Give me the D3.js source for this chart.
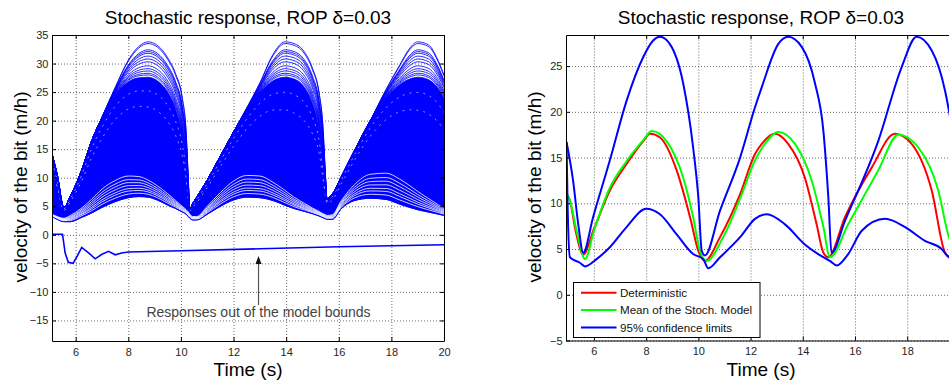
<!DOCTYPE html>
<meta charset="utf-8">
<style>
body { margin: 0; background: #fff; }
svg { display: block; font-family: "Liberation Sans", Arial, sans-serif; }
</style>
<body>
<script src="https://d3js.org/d3.v7.min.js"></script>
<script>

// ---------- left panel: ensemble of responses
// time knots shared by the envelope curves of the cloud
var cloudT = [5.1, 5.3, 5.55, 5.8, 6.2, 6.6, 7.0, 7.5, 8.0, 8.4, 8.75, 9.1, 9.5, 9.8, 10.05, 10.2, 10.28, 10.34, 10.45, 10.6,
              11.0, 11.5, 12.0, 12.5, 13.0, 13.5, 13.95, 14.3, 14.7, 15.0, 15.25, 15.4, 15.5, 15.55, 15.75, 16.1, 16.6, 17.2, 17.8, 18.3,
              18.7, 19.0, 19.4, 19.8, 20.0];
// outermost response (highest peaks)
var cloudOuter = [14.2, 10.5, 4.8, 6.8, 11.0, 16.4, 20.6, 25.8, 30.6, 33.0, 33.8, 33.2, 31.0, 28.2, 24.1, 18.0, 10.0, 4.4, 5.5, 6.6,
                  9.6, 13.8, 18.0, 22.2, 26.6, 31.6, 33.8, 33.5, 32.0, 29.2, 25.0, 19.0, 10.0, 6.3, 7.1, 10.2, 14.8, 20.0, 25.5, 29.6,
                  32.7, 33.8, 33.3, 30.3, 28.0];
// top of the solid mass
var cloudDense = [14.2, 10.5, 4.8, 6.8, 11.0, 16.4, 20.5, 24.5, 26.8, 27.5, 27.6, 27.0, 25.0, 22.0, 17.5, 12.0, 7.0, 4.4, 5.5, 6.6,
                  9.6, 13.8, 18.0, 21.8, 25.0, 27.0, 27.6, 27.3, 25.8, 23.0, 18.5, 12.5, 8.0, 6.3, 7.1, 10.2, 14.8, 20.0, 24.0, 26.3,
                  27.3, 27.6, 27.2, 25.5, 24.0];
// highest of the low, smooth responses
var lowFamTop = [3.6, 3.2, 2.9, 3.4, 4.6, 6.2, 8.0, 9.5, 10.3, 10.2, 9.6, 8.6, 7.2, 6.0, 5.0, 4.4, 4.0, 3.6, 3.2, 3.2,
                 5.0, 7.4, 9.4, 10.4, 10.3, 9.2, 7.8, 6.6, 5.5, 4.7, 4.1, 3.7, 3.5, 3.4, 3.5, 6.0, 8.8, 10.6, 10.8, 9.8,
                 8.6, 7.6, 6.4, 5.2, 4.6];
// lowest response
var cloudLow = [3.2, 2.7, 2.3, 2.3, 3.0, 3.8, 4.8, 5.8, 6.5, 6.7, 6.6, 6.1, 5.2, 4.6, 4.0, 3.6, 3.2, 2.9, 2.6, 2.6,
                3.6, 5.0, 6.1, 6.6, 6.5, 6.0, 5.2, 4.6, 4.1, 3.7, 3.3, 3.0, 2.8, 2.7, 2.7, 4.6, 6.0, 6.4, 6.2, 5.4,
                4.8, 4.4, 4.0, 3.6, 3.4];

// peak values of the separate arcs standing above the solid mass
var topArcPeaks = [33.8, 33.5, 32.4, 32.1, 31.8, 31.3, 30.8, 30.3, 29.6, 29.1, 28.7, 28.3, 28.0];
// peak values of the white gaps between the low responses
var lowGapPeaks = [10.3, 9.7, 9.2, 8.7, 8.2, 7.8, 7.3];
// broken white gaps inside the mass
var innerGapPeaks = [25.3, 22.6];

// response out of the model bounds
var outT = [5.1, 5.5, 5.6, 5.72, 5.9, 6.05, 6.23, 6.5, 6.74, 7.0, 7.25, 7.5, 7.75, 8.0, 10.0, 13.0, 16.0, 20.0];
var outV = [0.1, 0.1, -3.2, -4.8, -5.0, -3.8, -2.2, -3.2, -4.2, -3.4, -2.9, -3.5, -3.2, -3.0, -2.8, -2.45, -2.1, -1.75];

// ---------- right panel
var upT = [4.95, 5.2, 5.4, 5.59, 5.97, 6.61, 7.25, 7.89, 8.27, 8.53, 8.91, 9.42, 9.8, 10.0, 10.13, 10.25, 10.83, 11.6, 12.17, 12.43,
           13.06, 13.44, 13.96, 14.47, 14.79, 14.98, 15.1, 15.62, 16.89, 17.79, 18.36, 18.94, 19.45, 19.75, 20.0];
var upV = [16.7, 12.5, 7.7, 4.6, 8.5, 14.7, 21.2, 26.0, 27.8, 28.2, 27.4, 23.1, 16.1, 10.6, 4.8, 4.3, 9.2, 15.0, 20.5, 22.7,
           27.4, 28.2, 27.1, 23.1, 17.9, 10.6, 4.6, 8.1, 16.8, 24.9, 28.2, 26.7, 22.3, 17.5, 12.0];
var loT = [4.95, 4.99, 5.08, 5.46, 5.66, 6.1, 6.61, 7.25, 8.0, 8.53, 9.17, 9.8, 10.19, 10.38, 10.83, 11.6, 12.17, 12.62, 13.32, 14.08,
           14.59, 15.04, 15.3, 15.74, 16.26, 17.15, 17.92, 18.68, 19.32, 19.6, 20.0];
var loV = [16.7, 10.0, 4.1, 3.5, 3.1, 3.9, 5.2, 7.4, 9.4, 8.8, 6.6, 4.45, 3.9, 2.9, 4.1, 6.3, 8.3, 8.8, 7.7, 5.5,
           4.45, 3.7, 3.2, 4.45, 7.0, 8.3, 7.4, 5.9, 5.0, 4.1, 3.8];
var detT = [4.97, 5.08, 5.3, 5.59, 6.0, 6.61, 7.25, 7.89, 8.15, 8.53, 9.17, 9.68, 10.0, 10.25, 10.83, 11.6, 12.17, 12.43, 12.93, 13.44,
            14.08, 14.53, 14.79, 14.98, 15.62, 16.64, 17.53, 18.17, 18.94, 19.45, 19.6, 20.0];
var detV = [11.0, 10.3, 7.0, 4.4, 7.2, 11.4, 14.3, 16.8, 17.6, 17.2, 13.6, 8.5, 4.8, 3.7, 6.3, 11.0, 15.4, 16.5, 17.6, 16.5,
            12.8, 7.7, 4.6, 4.1, 8.5, 13.9, 17.6, 16.5, 11.4, 4.6, 4.2, 5.0];
var meanT = [4.97, 5.08, 5.35, 5.66, 6.0, 6.61, 7.25, 7.89, 8.21, 8.78, 9.42, 9.8, 10.06, 10.32, 10.95, 11.6, 12.17, 12.55, 13.06, 13.7,
             14.34, 14.79, 15.04, 15.74, 16.89, 17.66, 18.43, 19.19, 19.6, 20.0];
var meanV = [11.0, 10.3, 6.8, 3.9, 7.0, 11.7, 14.6, 16.9, 17.9, 16.8, 12.8, 8.5, 4.8, 3.7, 6.3, 10.5, 14.7, 16.5, 17.8, 16.5,
             12.5, 7.4, 4.1, 7.7, 13.6, 17.5, 16.1, 11.4, 6.3, 4.5];

var legendLabels = ["Deterministic", "Mean of the Stoch. Model", "95% confidence limits"];
var legendColors = ["#ff0000", "#00ff00", "#0000ff"];

var xTicksLeft = [6, 8, 10, 12, 14, 16, 18, 20];
var xTicksRight = [6, 8, 10, 12, 14, 16, 18];   // 20 falls outside the cropped picture
var yTicksLeft = [-15, -10, -5, 0, 5, 10, 15, 20, 25, 30, 35];
var yTicksRight = [-5, 0, 5, 10, 15, 20, 25];

var titleText = "Stochastic response, ROP \u03b4=0.03";
var yLabelText = "velocity of the bit (m/h)";
var xLabelText = "Time (s)";
var noteText = "Responses out of the model bounds";

// ---------- scales
var xL = d3.scaleLinear().domain([5.1, 20]).range([52, 444]);
var yL = d3.scaleLinear().domain([-18.6, 35]).range([341, 35]);
var xR = d3.scaleLinear().domain([4.93, 20]).range([566, 959.4]);
var yR = d3.scaleLinear().domain([-5, 28.4]).range([340.5, 35]);

var svg = d3.select("body").append("svg")
    .attr("width", 949)
    .attr("height", 382);

function zip(ts, vs) { return ts.map(function(t, i) { return {t: t, v: vs[i]}; }); }

// grid lines, drawn below the data
function drawGrid(x, y, xTicks, yTicks) {
  var g = svg.append("g");
  var w = x.range()[1] - x.range()[0], h = y.range()[0] - y.range()[1];
  g.append("g")
      .attr("transform", "translate(0," + y.range()[0] + ")")
      .call(d3.axisBottom(x).tickValues(xTicks).tickSize(-h).tickFormat(""));
  g.append("g")
      .attr("transform", "translate(" + x.range()[0] + ",0)")
      .call(d3.axisLeft(y).tickValues(yTicks).tickSize(-w).tickFormat(""));
  g.selectAll(".domain").remove();
  g.selectAll(".tick line")
      .attr("stroke", "#6a6a6a")
      .attr("stroke-dasharray", "1,2");
}

// box, inward ticks, labels
function drawFrame(x, y, xTicks, yTicks, cx) {
  var x0 = x.range()[0], x1 = x.range()[1], y0 = y.range()[1], y1 = y.range()[0];
  var axes = [
    [d3.axisBottom(x).tickValues(xTicks).tickPadding(7), "translate(0," + y1 + ")"],
    [d3.axisTop(x).tickValues(xTicks).tickFormat(""), "translate(0," + y0 + ")"],
    [d3.axisLeft(y).tickValues(yTicks).tickPadding(3.5), "translate(" + x0 + ",0)"],
    [d3.axisRight(y).tickValues(yTicks).tickFormat(""), "translate(" + x1 + ",0)"]
  ];
  axes.forEach(function(a) {
    var g = svg.append("g")
        .attr("transform", a[1])
        .call(a[0].tickSizeInner(-4).tickSizeOuter(0));
    g.select(".domain").attr("stroke", "#000");
    g.selectAll(".tick line").attr("stroke", "#000");
    g.selectAll("text")
        .attr("font-family", "Liberation Sans, Arial, sans-serif")
        .attr("font-size", 11)
        .attr("fill", "#262626");
  });

  svg.append("text")
      .attr("x", cx).attr("y", 24)
      .attr("text-anchor", "middle")
      .attr("font-size", 19)
      .text(titleText);
  svg.append("text")
      .attr("x", cx).attr("y", 376)
      .attr("text-anchor", "middle")
      .attr("font-size", 19)
      .text(xLabelText);
  svg.append("text")
      .attr("transform", "translate(" + (x0 - 25) + ",187) rotate(-90)")
      .attr("text-anchor", "middle")
      .attr("font-size", 19)
      .text(yLabelText);
}

function clip(id, x, y) {
  svg.append("clipPath").attr("id", id)
    .append("rect")
      .attr("x", x.range()[0]).attr("y", y.range()[1])
      .attr("width", x.range()[1] - x.range()[0])
      .attr("height", y.range()[0] - y.range()[1]);
}

// =============== LEFT PANEL ===============
drawGrid(xL, yL, xTicksLeft, yTicksLeft);
clip("clipL", xL, yL);

var left = svg.append("g").attr("clip-path", "url(#clipL)");

// curve between two envelopes, w = 0 gives a, w = 1 gives b
function blend(a, b, w) {
  return cloudT.map(function(t, i) { return {t: t, v: a[i] + (b[i] - a[i]) * w}; });
}

var lineL = d3.line()
    .x(function(d) { return xL(d.t); })
    .y(function(d) { return yL(d.v); })
    .curve(d3.curveMonotoneX);

var hump1 = cloudT.map(function(t, i) { return i; }).filter(function(i) { return cloudT[i] < 10.3; });
function peak1(arr) { return d3.max(hump1, function(i) { return arr[i]; }); }

var outerPk = d3.max(cloudOuter), densePk = d3.max(cloudDense);
var famPk = peak1(lowFamTop), lowPk = peak1(cloudLow);

// solid mass
left.append("path")
    .datum(cloudT.map(function(t, i) { return {t: t, lo: cloudLow[i], hi: cloudDense[i]}; }))
    .attr("fill", "#0000ff")
    .attr("stroke", "#0000ff")
    .attr("stroke-width", 0.8)
    .attr("d", d3.area()
        .x(function(d) { return xL(d.t); })
        .y0(function(d) { return yL(d.lo); })
        .y1(function(d) { return yL(d.hi); })
        .curve(d3.curveMonotoneX));

// white gaps among the low responses
left.selectAll(".lowgap")
    .data(lowGapPeaks)
  .enter().append("path")
    .attr("fill", "none")
    .attr("stroke", "#fff")
    .attr("stroke-width", 0.9)
    .attr("stroke-opacity", 0.9)
    .attr("d", function(p) { return lineL(blend(cloudLow, lowFamTop, (p - lowPk) / (famPk - lowPk))); });

// broken gaps inside the mass
left.selectAll(".innergap")
    .data(innerGapPeaks)
  .enter().append("path")
    .attr("fill", "none")
    .attr("stroke", "#fff")
    .attr("stroke-width", 0.8)
    .attr("stroke-opacity", 0.7)
    .attr("stroke-dasharray", "2,5")
    .attr("d", function(p) { return lineL(blend(lowFamTop, cloudDense, (p - famPk) / (densePk - famPk))); });

// separate arcs above the mass
left.selectAll(".arc")
    .data(topArcPeaks)
  .enter().append("path")
    .attr("fill", "none")
    .attr("stroke", "#0000ff")
    .attr("stroke-width", 1)
    .attr("stroke-opacity", 0.85)
    .attr("d", function(p) { return lineL(blend(cloudDense, cloudOuter, (p - densePk) / (outerPk - densePk))); });

// lowest response line
left.append("path")
    .attr("fill", "none")
    .attr("stroke", "#0000ff")
    .attr("stroke-width", 1)
    .attr("d", lineL(zip(cloudT, cloudLow)));

// out of bounds response
left.append("path")
    .attr("fill", "none")
    .attr("stroke", "#0000ff")
    .attr("stroke-width", 1.6)
    .attr("d", d3.line()
        .x(function(d) { return xL(d.t); })
        .y(function(d) { return yL(d.v); })(zip(outT, outV)));

drawFrame(xL, yL, xTicksLeft, yTicksLeft, 248);

// annotation arrow
var ax = xL(12.95);
svg.append("line")
    .attr("x1", ax).attr("x2", ax)
    .attr("y1", yL(-12.3)).attr("y2", yL(-4.6))
    .attr("stroke", "#555")
    .attr("stroke-width", 1.2);
svg.append("path")
    .attr("d", "M" + ax + "," + yL(-3.7) + "l-3,8h6z")
    .attr("fill", "#111");
svg.append("text")
    .attr("x", ax).attr("y", yL(-14.4))
    .attr("text-anchor", "middle")
    .attr("font-size", 14)
    .attr("fill", "#444")
    .text(noteText);

// =============== RIGHT PANEL ===============
drawGrid(xR, yR, xTicksRight, yTicksRight);
clip("clipR", xR, yR);

var right = svg.append("g").attr("clip-path", "url(#clipR)");
var lineR = d3.line()
    .x(function(d) { return xR(d.t); })
    .y(function(d) { return yR(d.v); })
    .curve(d3.curveMonotoneX);

var seriesR = [
  {pts: zip(detT, detV), color: legendColors[0]},
  {pts: zip(meanT, meanV), color: legendColors[1]},
  {pts: zip(loT, loV), color: legendColors[2]},
  {pts: zip(upT, upV), color: legendColors[2]}
];

right.selectAll(".series")
    .data(seriesR)
  .enter().append("path")
    .attr("fill", "none")
    .attr("stroke", function(d) { return d.color; })
    .attr("stroke-width", 2)
    .attr("stroke-linejoin", "round")
    .attr("d", function(d) { return lineR(d.pts); });

drawFrame(xR, yR, xTicksRight, yTicksRight, 761);

// legend
var lg = svg.append("g").attr("transform", "translate(573.5,282.5)");
lg.append("rect")
    .attr("width", 186.5).attr("height", 55)
    .attr("fill", "#fff")
    .attr("stroke", "#000");
var row = lg.selectAll(".row")
    .data(legendLabels)
  .enter().append("g")
    .attr("transform", function(d, i) { return "translate(0," + (10.2 + i * 17.4) + ")"; });
row.append("line")
    .attr("x1", 7.5).attr("x2", 43)
    .attr("stroke", function(d, i) { return legendColors[i]; })
    .attr("stroke-width", 2);
row.append("text")
    .attr("x", 46.5).attr("y", 4.3)
    .attr("font-size", 11.6)
    .attr("fill", "#111")
    .text(function(d) { return d; });

</script>
</body>
